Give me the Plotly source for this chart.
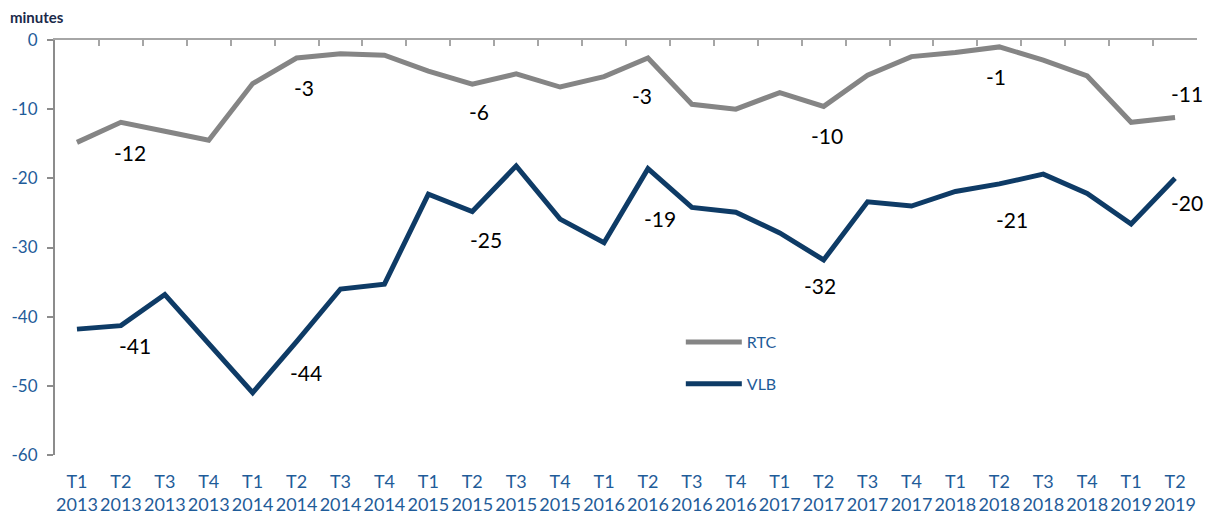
import plotly.graph_objects as go

quarters = ["T1", "T2", "T3", "T4"] * 6 + ["T1", "T2"]
years = (["2013"] * 4 + ["2014"] * 4 + ["2015"] * 4 + ["2016"] * 4
         + ["2017"] * 4 + ["2018"] * 4 + ["2019"] * 2)
categories = [f"{q}<br>{y}" for q, y in zip(quarters, years)]

rtc = [-14.8, -11.9, -13.2, -14.5, -6.3, -2.6, -2.0, -2.2,
       -4.5, -6.4, -4.9, -6.8, -5.3, -2.6, -9.3, -10.0,
       -7.6, -9.6, -5.1, -2.4, -1.8, -1.0, -2.9, -5.2,
       -11.9, -11.2]
vlb = [-41.8, -41.3, -36.8, -43.9, -51.0, -43.6, -36.0, -35.3,
       -22.3, -24.8, -18.2, -25.9, -29.3, -18.6, -24.2, -24.9,
       -27.9, -31.8, -23.4, -24.0, -21.9, -20.8, -19.4, -22.2,
       -26.6, -20.0]

y_tickvals = [-60, -50, -40, -30, -20, -10, 0]
y_ticktext = ["-60", "-50", "-40", "-30", "-20", "-10", "0"]

# indexes of labelled points (each T2)
label_idx = [1, 5, 9, 13, 17, 21, 25]
# label pixel offsets (style only)
rtc_shift = [(9, -30), (7, -30), (7, -27), (-6, -38), (3, -29), (-3, -30), (12, 24)]
vlb_shift = [(14, -20), (9, -31), (14, -28), (12, -50), (-4, -26), (13, -36), (12, -24)]

FONT = "Lato"
BLUE = "#1F5C99"
GRAY = "#858585"
NAVY = "#0E3B66"

fig = go.Figure()
fig.add_trace(go.Scatter(x=categories, y=rtc, name="RTC", mode="lines",
                         line=dict(color=GRAY, width=5), legendgroup="a",
                         hoverinfo="skip"))
fig.add_trace(go.Scatter(x=categories, y=vlb, name="VLB", mode="lines",
                         line=dict(color=NAVY, width=5), legendgroup="b",
                         hoverinfo="skip"))

annotations = []
for series, shifts in ((rtc, rtc_shift), (vlb, vlb_shift)):
    for i, (dx, dy) in zip(label_idx, shifts):
        annotations.append(dict(
            x=categories[i], y=series[i], xref="x", yref="y",
            text=f"{round(series[i]):d}", showarrow=False,
            xshift=dx, yshift=dy,
            font=dict(family=FONT, size=21, color="#000000")))

annotations.append(dict(
    x=-0.041, y=1.0554, xref="paper", yref="paper", text="<b>minutes</b>",
    showarrow=False, xanchor="left", yanchor="middle",
    font=dict(family=FONT, size=15, color="#1B2A4A")))

# the page body adds an 8px margin, so the figure is 8px smaller
fig.update_layout(
    width=1204, height=510,
    margin=dict(l=47, r=15, t=32, b=63, autoexpand=False),
    paper_bgcolor="white", plot_bgcolor="white",
    showlegend=True,
    legend=dict(x=0.548, y=0.313, xanchor="left", yanchor="top",
                bgcolor="rgba(0,0,0,0)", tracegroupgap=18,
                traceorder="grouped", itemwidth=56,
                font=dict(family=FONT, size=16, color=BLUE)),
    xaxis=dict(type="category", categoryorder="array", categoryarray=categories,
               range=[-0.5, 25.5], showline=False, ticks="", showgrid=False,
               zeroline=False, automargin=False,
               tickfont=dict(family=FONT, size=18, color=BLUE),
               ticklabelstandoff=14, tickangle=0),
    xaxis2=dict(overlaying="x", side="top", anchor="y", range=[-0.5, 25.5],
                tick0=-0.5, dtick=1, ticks="inside", ticklen=6, tickwidth=2,
                tickcolor="#A6A6A6", showline=True, linecolor="#A6A6A6",
                linewidth=2, showticklabels=False, showgrid=False,
                zeroline=False, automargin=False),
    yaxis=dict(range=[-60, 0], tickmode="array", tickvals=y_tickvals,
               ticktext=y_ticktext, showgrid=False, zeroline=False,
               showline=True, linecolor="#8C8C8C", linewidth=2,
               ticks="outside", ticklen=6, tickwidth=2, tickcolor="#8C8C8C",
               tickfont=dict(family=FONT, size=17, color=BLUE),
               ticklabelstandoff=6, automargin=False),
    annotations=annotations,
)
# invisible trace to activate the top axis
fig.add_trace(go.Scatter(x=[-0.5, 25.5], y=[None, None], xaxis="x2", yaxis="y",
                         showlegend=False, hoverinfo="skip", mode="lines"))

fig.write_html("out.html")
